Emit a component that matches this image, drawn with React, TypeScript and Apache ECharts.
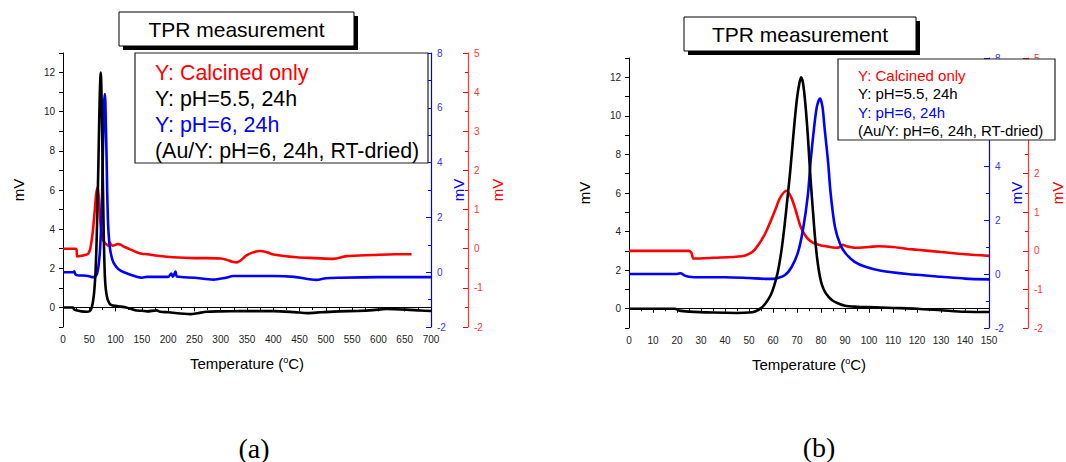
import React, { useEffect, useRef } from 'react';
import * as echarts from 'echarts';

// ---------- DATA ----------
// Y: pH=5.5, 24h (black, left axis)
const ph55Temp = [0, 19, 21, 25, 35, 45, 50, 52.5, 55, 57, 59, 60.5, 62, 63.5, 64.8, 66, 67, 68, 69, 70, 71, 71.7, 72.5, 73.5, 74.5, 75.5, 76.5, 77.5, 78.5, 79.5, 80.5, 82, 84.5, 87, 90, 95, 100, 110, 120, 130, 140, 150,
  160, 178, 185, 200, 242, 255, 273, 300, 336, 400, 440, 465, 490, 526, 560, 590, 615, 653, 680, 700];
const ph55MV = [0, 0, -0.1, -0.15, -0.2, -0.22, -0.2, -0.14, 0.03, 0.3, 0.7, 1.2, 1.9, 3.0, 4.3, 5.7, 6.9, 8.3, 9.7, 10.9, 11.7, 12.0, 11.7, 10.6, 9.0, 7.0, 5.3, 3.7, 2.5, 1.7, 1.2, 0.8, 0.45, 0.28, 0.15, 0.1, 0.08, 0.04, 0.0, -0.08, -0.16, -0.17,
  -0.2, -0.15, -0.22, -0.25, -0.34, -0.3, -0.22, -0.2, -0.19, -0.19, -0.24, -0.29, -0.25, -0.2, -0.18, -0.14, -0.08, -0.11, -0.16, -0.18];

// Y: pH=6, 24h (blue axis)
const ph6Temp = [0, 20, 21.5, 23, 25, 30, 40, 50, 57, 60, 62, 65, 67.7, 70.4, 72.5, 74.5, 75.7, 77.1, 78.3, 79.6, 80.6, 81.5, 82.9, 84, 85.8, 88, 90.2, 94, 98.5, 105, 116, 130, 140, 150,
  160, 200, 206, 209, 214, 217, 250, 286, 310, 324, 360, 400, 440, 482, 500, 526, 600, 650, 700];
const ph6MV = [0, 0, 0.03, -0.05, -0.1, -0.12, -0.12, -0.15, -0.18, -0.18, -0.15, -0.04, 0.25, 0.8, 1.65, 2.9, 4.2, 5.4, 6.2, 6.5, 6.2, 5.4, 4.2, 3.0, 1.75, 1.1, 0.77, 0.45, 0.27, 0.12, 0.0, -0.1, -0.17, -0.2,
  -0.17, -0.17, -0.05, -0.16, 0.02, -0.16, -0.2, -0.27, -0.2, -0.14, -0.14, -0.14, -0.17, -0.28, -0.22, -0.2, -0.18, -0.18, -0.18];

// Y: Calcined only (red axis)
const calcinedTemp = [0, 25, 26, 27, 35, 47, 50, 52.5, 56.6, 60.8, 63, 65.6, 67.5, 69.5, 71.6, 74, 76.4, 80, 82, 86, 88, 89, 90.5, 94, 100, 104, 110, 116, 120, 130, 140, 150,
  160, 180, 209, 250, 273, 300, 311, 322, 330, 338, 343, 349, 360, 374, 390, 400, 444, 480, 514, 539, 590, 630, 663];
const calcinedMV = [0, 0, -0.05, -0.2, -0.18, -0.14, -0.08, 0.04, 0.43, 1.04, 1.38, 1.56, 1.4, 1.04, 0.61, 0.35, 0.22, 0.14, 0.12, 0.08, 0.1, 0.16, 0.12, 0.08, 0.1, 0.12, 0.1, 0.05, 0.03, -0.03, -0.09, -0.13,
  -0.14, -0.18, -0.22, -0.24, -0.24, -0.25, -0.28, -0.33, -0.35, -0.3, -0.24, -0.17, -0.1, -0.06, -0.1, -0.15, -0.22, -0.24, -0.26, -0.19, -0.16, -0.14, -0.14];

const legendLines = ['Y: Calcined only', 'Y: pH=5.5, 24h', 'Y: pH=6, 24h', '(Au/Y: pH=6, 24h, RT-dried)'];
const legendColors = ['#ff0000', '#000000', '#0000ff', '#000000'];
const titleText = 'TPR measurement';
const xMaxA = 700, xMaxB = 150;
const xStepA = 50, xStepB = 10;
const leftLabels = [0, 2, 4, 6, 8, 10, 12];
// right-axis labels hidden behind the legend box of panel (b)
const hiddenBlueB = [6];
const hiddenRedB = [3, 4];

// ---------- HELPERS ----------
const FONT = '"Liberation Sans", Arial, sans-serif';
const zip = (t: number[], v: number[], maxT: number) =>
  t.map((x, i) => [x, v[i]]).filter((p) => p[0] <= maxT);

function makePanel(gi: number, xMax: number, xStep: number) {
  const yBase = gi * 3;
  const xAxis = {
    gridIndex: gi, type: 'value', min: 0, max: xMax, interval: xStep,
    axisLine: { show: true, lineStyle: { color: '#000', width: 1 } },
    axisTick: { show: true, inside: false, length: 4, lineStyle: { color: '#000' } },
    minorTick: { show: true, splitNumber: 2, length: 2.5, lineStyle: { color: '#000' } },
    splitLine: { show: false }, minorSplitLine: { show: false },
    axisLabel: { fontSize: 10, color: '#222', margin: 7, fontFamily: FONT },
    name: '{a|Temperature (}{s|o}{a|C)}', nameLocation: 'middle', nameGap: 28,
    nameTextStyle: {
      rich: {
        a: { fontSize: 15, fontFamily: FONT, color: '#000' },
        s: { fontSize: 9, fontFamily: FONT, color: '#000', verticalAlign: 'top', padding: [0, 0, 8, 0] },
      },
    },
  };
  const hideB = (hidden: number[]) => (v: number) => (gi === 1 && hidden.indexOf(v) >= 0 ? '' : String(v));
  const yAxes = [
    {
      gridIndex: gi, type: 'value', position: 'left', min: -1, max: 13, interval: 1,
      axisLine: { show: true, lineStyle: { color: '#000' } },
      axisTick: { show: true, inside: false, length: 4, lineStyle: { color: '#000' } },
      splitLine: { show: false },
      axisLabel: {
        fontSize: 10, color: '#222', margin: 8, fontFamily: FONT,
        formatter: (v: number) => (leftLabels.indexOf(v) >= 0 ? String(v) : ''),
      },
      name: 'mV', nameLocation: 'middle', nameGap: 37, nameRotate: 90,
      nameTextStyle: { fontSize: 15, fontFamily: FONT, color: '#000' },
    },
    {
      gridIndex: gi, type: 'value', position: 'right', offset: 0, min: -2, max: 8, interval: 2,
      axisLine: { show: true, lineStyle: { color: '#0000ff', width: 1.2 } },
      axisTick: { show: true, inside: true, length: 5, lineStyle: { color: '#0000ff' } },
      minorTick: { show: true, splitNumber: 2, length: 3, lineStyle: { color: '#0000ff' } },
      splitLine: { show: false }, minorSplitLine: { show: false },
      axisLabel: { fontSize: 10, color: '#3333ff', margin: 6, fontFamily: FONT, formatter: hideB(hiddenBlueB) },
      name: 'mV', nameLocation: 'middle', nameGap: 20, nameRotate: 90,
      nameTextStyle: { fontSize: 15, fontFamily: FONT, color: '#0000ff' },
    },
    {
      gridIndex: gi, type: 'value', position: 'right', offset: gi === 0 ? 37 : 39, min: -2, max: 5, interval: 1,
      axisLine: { show: true, lineStyle: { color: '#ff3333', width: 1.2 } },
      axisTick: { show: true, inside: true, length: 5, lineStyle: { color: '#ff0000' } },
      minorTick: { show: true, splitNumber: 2, length: 3, lineStyle: { color: '#ff0000' } },
      splitLine: { show: false }, minorSplitLine: { show: false },
      axisLabel: { fontSize: 10, color: '#ff3333', margin: 6, fontFamily: FONT, formatter: hideB(hiddenRedB) },
      name: 'mV', nameLocation: 'middle', nameGap: 22, nameRotate: 90,
      nameTextStyle: { fontSize: 15, fontFamily: FONT, color: '#ff0000' },
    },
  ];
  const mk = (name: string, t: number[], v: number[], yi: number, color: string) => ({
    name, type: 'line', xAxisIndex: gi, yAxisIndex: yBase + yi,
    data: zip(t, v, xMax), showSymbol: false, symbol: 'none', smooth: 0.3,
    lineStyle: { color, width: 2.6 }, z: yi === 0 ? 4 : yi === 1 ? 3 : 2,
  });
  const series = [
    mk('Y: Calcined only', calcinedTemp, calcinedMV, 2, '#ff0000'),
    mk('Y: pH=6, 24h', ph6Temp, ph6MV, 1, '#0000ff'),
    mk('Y: pH=5.5, 24h', ph55Temp, ph55MV, 0, '#000000'),
  ];
  return { xAxis, yAxes, series };
}

function boxes() {
  const g: any[] = [];
  const titleBox = (x: number, y: number, w: number, h: number) => {
    g.push({ type: 'rect', z: 100, shape: { x: x + 4, y: y + 4, width: w, height: h }, style: { fill: '#000' } });
    g.push({ type: 'rect', z: 101, shape: { x, y, width: w, height: h }, style: { fill: '#fff', stroke: '#000', lineWidth: 1 } });
    g.push({ type: 'text', z: 102, x: x + w / 2, y: y + h / 2, style: { text: titleText, font: `21px ${FONT}`, fill: '#000', align: 'center', verticalAlign: 'middle' } });
  };
  titleBox(119, 12, 235, 34);
  titleBox(684, 17, 232, 34);

  const legendBox = (x: number, y: number, w: number, h: number, tx: number, ty0: number, dy: number, fs: number) => {
    g.push({ type: 'rect', z: 100, shape: { x, y, width: w, height: h }, style: { fill: '#fff', stroke: '#222', lineWidth: 1.2 } });
    legendLines.forEach((s, i) => {
      g.push({ type: 'text', z: 102, x: tx, y: ty0 + i * dy, style: { text: s, font: `${fs}px ${FONT}`, fill: legendColors[i], align: 'left', verticalAlign: 'middle' } });
    });
  };
  legendBox(135, 53, 293, 110, 155, 73, 26, 21.4);
  legendBox(838, 59, 217, 81, 858, 75, 18.5, 15);

  g.push({ type: 'text', z: 102, x: 254, y: 448, style: { text: '(a)', font: `28px "Liberation Serif", "Times New Roman", serif`, fill: '#000', align: 'center', verticalAlign: 'middle' } });
  g.push({ type: 'text', z: 102, x: 819, y: 447, style: { text: '(b)', font: `28px "Liberation Serif", "Times New Roman", serif`, fill: '#000', align: 'center', verticalAlign: 'middle' } });
  return g;
}

export default function App() {
  const ref = useRef<HTMLDivElement>(null);
  useEffect(() => {
    if (!ref.current) return;
    const chart = echarts.init(ref.current, undefined, { renderer: 'svg' });
    const pa = makePanel(0, xMaxA, xStepA);
    const pb = makePanel(1, xMaxB, xStepB);
    chart.setOption({
      animation: false,
      backgroundColor: '#ffffff',
      grid: [
        { left: 63, top: 53, width: 368, height: 274 },
        { left: 629, top: 58, width: 363, height: 270 },
      ],
      xAxis: [pa.xAxis, pb.xAxis],
      yAxis: [...pa.yAxes, ...pb.yAxes],
      series: [...pa.series, ...pb.series],
      graphic: boxes(),
    });
    return () => chart.dispose();
  }, []);
  return <div ref={ref} style={{ position: 'fixed', left: 0, top: 0, width: 1066, height: 462 }} />;
}
